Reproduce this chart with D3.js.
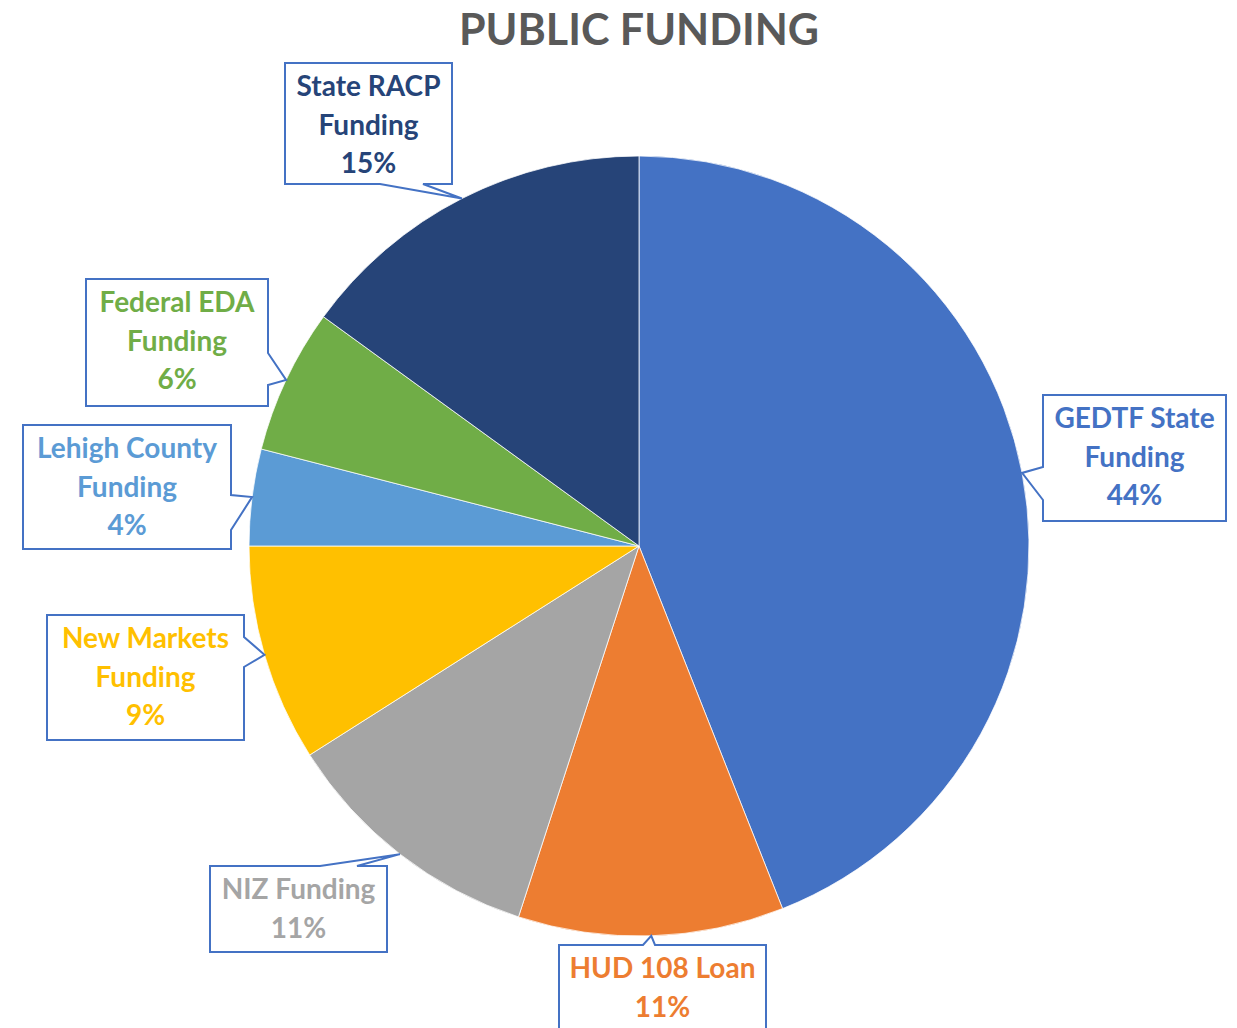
<!DOCTYPE html>
<html>
<head>
<meta charset="utf-8">
<script src="https://cdn.jsdelivr.net/npm/d3@7"></script>
<style>
  html, body { margin: 0; padding: 0; background: #ffffff; }
  svg { display: block; }
</style>
</head>
<body>
<svg id="chart" width="1237" height="1028"></svg>
<script>
// Funding sources, clockwise from 12 o'clock
const categories = ["GEDTF State Funding", "HUD 108 Loan", "NIZ Funding", "New Markets Funding",
                    "Lehigh County Funding", "Federal EDA Funding", "State RACP Funding"];
const shares = [44, 11, 11, 9, 4, 6, 15];
// Label text, one entry per line
const labelLines = [
  ["GEDTF State", "Funding"],
  ["HUD 108 Loan"],
  ["NIZ Funding"],
  ["New Markets", "Funding"],
  ["Lehigh County", "Funding"],
  ["Federal EDA", "Funding"],
  ["State RACP", "Funding"]
];
const sliceColors = ["#4472C4", "#ED7D31", "#A5A5A5", "#FFC000", "#5B9BD5", "#70AD47", "#264478"];

// Callout boxes: rectangle, side carrying the pointer, and the pointer's base span on that side
const callouts = [
  { x: 1043, y: 395, w: 183, h: 126, side: "left",   b0: 467, b1: 500 },
  { x: 559,  y: 945, w: 207, h: 110, side: "top",    b0: 643, b1: 655 },
  { x: 210,  y: 866, w: 177, h: 86,  side: "top",    b0: 320, b1: 357 },
  { x: 47,   y: 615, w: 197, h: 125, side: "right",  b0: 637, b1: 667 },
  { x: 23,   y: 425, w: 208, h: 124, side: "right",  b0: 495, b1: 530 },
  { x: 86,   y: 279, w: 182, h: 127, side: "right",  b0: 353, b1: 385 },
  { x: 285,  y: 63,  w: 167, h: 121, side: "bottom", b0: 380, b1: 423 }
];

const cx = 639, cy = 546, radius = 390;
const svg = d3.select("#chart");

svg.append("text")
  .attr("x", 639).attr("y", 28)
  .attr("text-anchor", "middle")
  .attr("dominant-baseline", "central")
  .attr("font-family", "Lato, 'Open Sans', sans-serif")
  .attr("font-weight", 700)
  .attr("font-size", 43)
  .attr("fill", "#595959")
  .text("PUBLIC FUNDING");

const data = categories.map((c, i) => ({ name: c, value: shares[i], color: sliceColors[i], lines: labelLines[i], box: callouts[i] }));

const pie = d3.pie().sort(null).value(d => d.value).startAngle(0).endAngle(2 * Math.PI);
const arc = d3.arc().innerRadius(0).outerRadius(radius);
const arcs = pie(data);

const g = svg.append("g").attr("transform", `translate(${cx},${cy})`);
g.selectAll("path.slice")
  .data(arcs)
  .join("path")
  .attr("class", "slice")
  .attr("d", arc)
  .attr("fill", d => d.data.color)
  .attr("stroke", "#ffffff")
  .attr("stroke-width", 0.75);

// Callout outline: box with a wedge pointing at the slice's mid-angle on the rim
function calloutPath(b, tip) {
  const x0 = b.x, y0 = b.y, x1 = b.x + b.w, y1 = b.y + b.h;
  const p = d3.path();
  p.moveTo(x0, y0);
  if (b.side === "top") { p.lineTo(b.b0, y0); p.lineTo(tip[0], tip[1]); p.lineTo(b.b1, y0); }
  p.lineTo(x1, y0);
  if (b.side === "right") { p.lineTo(x1, b.b0); p.lineTo(tip[0], tip[1]); p.lineTo(x1, b.b1); }
  p.lineTo(x1, y1);
  if (b.side === "bottom") { p.lineTo(b.b1, y1); p.lineTo(tip[0], tip[1]); p.lineTo(b.b0, y1); }
  p.lineTo(x0, y1);
  if (b.side === "left") { p.lineTo(x0, b.b1); p.lineTo(tip[0], tip[1]); p.lineTo(x0, b.b0); }
  p.closePath();
  return p.toString();
}

const labels = svg.append("g");
arcs.forEach(a => {
  const mid = (a.startAngle + a.endAngle) / 2;
  const tip = [cx + Math.sin(mid) * radius, cy - Math.cos(mid) * radius];
  const b = a.data.box;
  labels.append("path")
    .attr("d", calloutPath(b, tip))
    .attr("fill", "#ffffff")
    .attr("stroke", "#4472C4")
    .attr("stroke-width", 2)
    .attr("stroke-linejoin", "miter");
  const lines = a.data.lines.concat([d3.format(".0f")(a.data.value) + "%"]);
  const t = labels.append("text")
    .attr("text-anchor", "middle")
    .attr("font-family", "Lato, 'Open Sans', sans-serif")
    .attr("font-weight", 700)
    .attr("font-size", 28)
    .attr("fill", a.data.color);
  lines.forEach((ln, i) => {
    t.append("tspan")
      .attr("x", b.x + b.w / 2)
      .attr("y", b.y + 22 + i * 38.5)
      .attr("dominant-baseline", "central")
      .text(ln);
  });
});
</script>
</body>
</html>
